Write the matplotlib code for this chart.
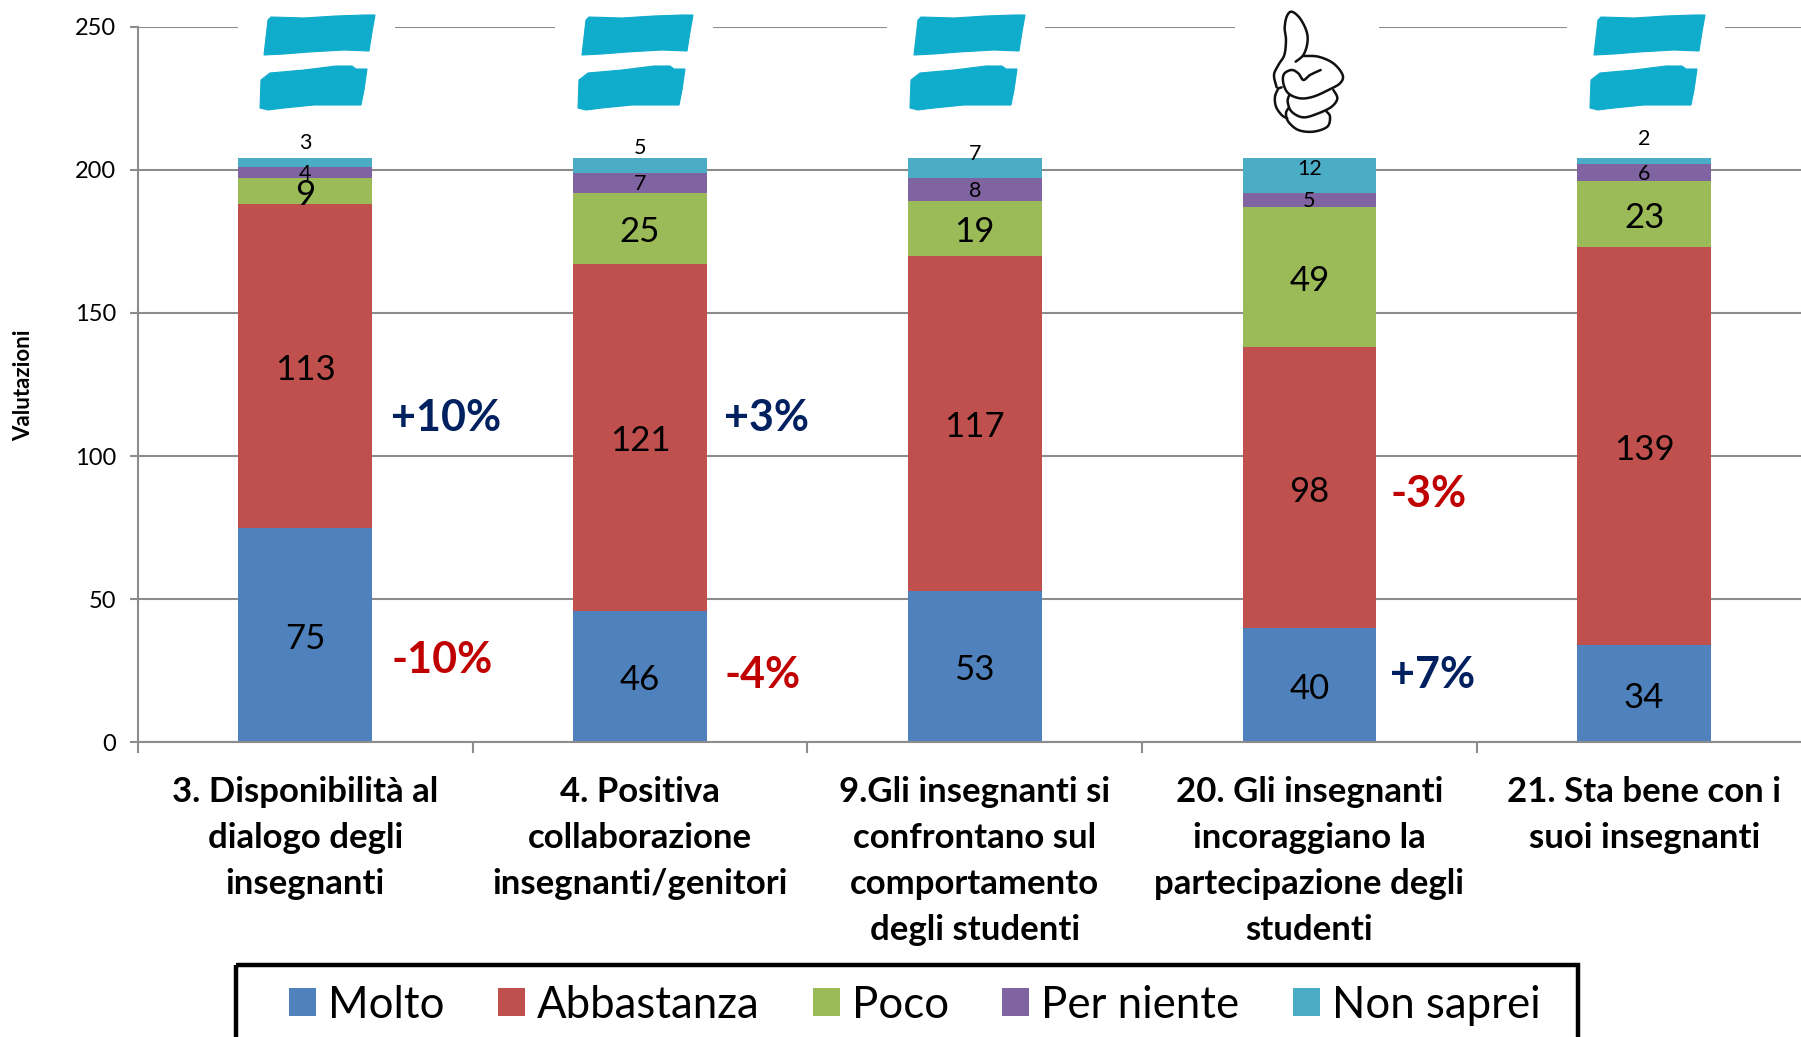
#!/usr/bin/env python3
import numpy as np
import matplotlib
matplotlib.use('Agg')
import matplotlib.pyplot as plt
from matplotlib.patches import Polygon, Rectangle

# ── data ──
categories = ['3. Disponibilità al\ndialogo degli\ninsegnanti',
              '4. Positiva\ncollaborazione\ninsegnanti/genitori',
              '9.Gli insegnanti si\nconfrontano sul\ncomportamento\ndegli studenti',
              '20. Gli insegnanti\nincoraggiano la\npartecipazione degli\nstudenti',
              '21. Sta bene con i\nsuoi insegnanti']
molto = [75, 46, 53, 40, 34]
abbastanza = [113, 121, 117, 98, 139]
poco = [9, 25, 19, 49, 23]
per_niente = [4, 7, 8, 5, 6]
non_saprei = [3, 5, 7, 12, 2]
series_names = ['Molto', 'Abbastanza', 'Poco', 'Per niente', 'Non saprei']
yticks = [0, 50, 100, 150, 200, 250]
deltas = ['+10%', '-10%', '+3%', '-4%', '-3%', '+7%']

# ── style ──
W, H = 1801, 1037
FONT = 'Lato'
COLORS = ['#4F81BD', '#C0504D', '#9BBB59', '#8064A2', '#4BACC6']
GRID = '#8C8C8C'
BRUSH = '#0FACCC'
LABEL_SIZE = [25, 25, 25, 15.5, 15.5]
LABEL_DROP = [4, 4, 4, 1, 0]
# pixels to lift the labels of the thin top segments
TOP_LIFT = [20, 18, 14, 7, 22]
DELTA_POS = [(391, 418), (391, 660), (724, 418), (724, 675), (1390, 494), (1390, 675)]
DELTA_COL = ['#002060', '#C00000', '#002060', '#C00000', '#C00000', '#002060']

plt.rcParams['font.family'] = [FONT, 'DejaVu Sans']

fig = plt.figure(figsize=(W / 100, H / 100), dpi=100)
AX_L, AX_T, AX_B = 138, 26.7, 742.3
CAT_W = 334.7
ax = fig.add_axes([AX_L / W, 1 - AX_B / H, 1 - AX_L / W, (AX_B - AX_T) / H])

# ── bars ──
x = np.arange(len(categories)) + 0.5
values = [molto, abbastanza, poco, per_niente, non_saprei]
bottom = np.zeros(len(categories))
handles = []
for k, vals in enumerate(values):
    bars = ax.bar(x, vals, 0.4, bottom=bottom, color=COLORS[k], zorder=2,
                  label=series_names[k])
    handles.append(bars)
    for i, v in enumerate(vals):
        lift = TOP_LIFT[i] if k == 4 else -LABEL_DROP[k]
        ax.annotate(str(v), (x[i], bottom[i] + v / 2), xytext=(0, lift * 0.72),
                    textcoords='offset points', ha='center', va='center',
                    fontsize=LABEL_SIZE[k], color='black', zorder=4)
    bottom += np.array(vals)

# ── axes ──
ax.set_xlim(0, (W - AX_L) / CAT_W)
ax.set_ylim(0, 250)
ax.set_yticks(yticks)
ax.yaxis.grid(True, color=GRID, lw=1.5, zorder=0)
ax.set_axisbelow(True)
ax.set_xticks(np.arange(0, 5))
ax.set_xticklabels([])
ax.set_xticks(x, minor=True)
ax.set_xticklabels(categories, minor=True, fontsize=25, fontweight='bold',
                   linespacing=1.53)
ax.tick_params(axis='x', which='major', length=8, width=1.5, color=GRID)
ax.tick_params(axis='x', which='minor', length=0, pad=24.5)
ax.tick_params(axis='y', length=6, width=1.5, color=GRID, labelsize=17, pad=10)
for s in ['top', 'right']:
    ax.spines[s].set_visible(False)
for s in ['left', 'bottom']:
    ax.spines[s].set_color(GRID)
    ax.spines[s].set_linewidth(1.5)

# overlay in pixel coordinates for the drawn icons
ov = fig.add_axes([0, 0, 1, 1], zorder=5)
ov.set_xlim(0, W)
ov.set_ylim(H, 0)
ov.axis('off')
ov.patch.set_alpha(0)

# ── percent notes ──
for txt, (px, py), col in zip(deltas, DELTA_POS, DELTA_COL):
    ov.text(px, py, txt, color=col, fontsize=31, fontweight='bold',
            ha='left', va='center')

# ── icons ──
ax_gaps = [(238, 395), (555, 713), (887, 1045), (1235, 1379), (1567, 1725)]
for a, b in ax_gaps:
    ov.add_patch(Rectangle((a, AX_T - 3), b - a, 6, fc='white', ec='none'))

stroke_top = [(0, 55), (4, 20), (7, 17), (40, 18), (72, 16), (100, 15), (111, 15),
              (108, 32), (105, 51), (80, 50), (45, 52), (20, 54)]
stroke_bot = [(-4, 108), (-3, 80), (6, 73), (40, 70), (72, 66), (88, 66), (92, 69),
              (103, 69), (100, 90), (97, 105), (85, 105), (50, 105), (20, 108), (4, 110)]
for ox in [264, 582, 914, 1594]:
    for st in (stroke_top, stroke_bot):
        pts = [(ox + px, py) for px, py in st]
        ov.add_patch(Polygon(pts, closed=True, fc=BRUSH, ec=BRUSH, lw=0.8))


def smooth(pts, n=14):
    # catmull-rom through the traced points
    p = np.array(pts, dtype=float)
    p = np.vstack([p[0], p, p[-1]])
    out = []
    for i in range(1, len(p) - 2):
        t = np.linspace(0, 1, n)[:, None]
        out.append(0.5 * (2 * p[i] + (p[i + 1] - p[i - 1]) * t
                          + (2 * p[i - 1] - 5 * p[i] + 4 * p[i + 1] - p[i + 2]) * t ** 2
                          + (3 * p[i] - p[i - 1] - 3 * p[i + 1] + p[i + 2]) * t ** 3))
    return np.vstack(out)


thumb = [
    [(80, 262), (72, 225), (85, 195), (103, 165), (108, 120), (104, 85), (110, 50),
     (125, 35), (150, 55), (170, 95), (172, 130), (160, 165), (137, 185)],
    [(160, 168), (205, 170), (250, 190), (278, 225), (270, 250), (235, 270), (190, 290),
     (150, 295), (115, 280), (100, 250), (102, 222), (125, 210), (145, 220), (160, 240),
     (180, 225), (212, 210)],
    [(250, 270), (262, 295), (245, 320), (205, 340), (160, 352), (125, 335), (113, 305),
     (118, 285)],
    [(230, 335), (240, 350), (232, 380), (190, 395), (145, 390), (115, 365), (108, 340),
     (115, 325)],
    [(85, 265), (75, 290), (78, 320), (95, 345), (112, 355)],
    [(85, 265), (95, 262)],
]
for seg in thumb:
    c = smooth(seg)
    ov.plot(1250 + c[:, 0] / 3, c[:, 1] / 3, color='#111111', lw=1.8,
            solid_capstyle='round')

# ── y title ──
fig.text(24 / W, 1 - 385 / H, 'Valutazioni', rotation=90, fontsize=16,
         fontweight='bold', ha='center', va='center')

# ── legend ──
ov.add_patch(Rectangle((236, 965), 1342, 90, fc='none', ec='black', lw=3.2))
fig.legend(handles, series_names, ncols=5, loc='center left', frameon=False,
           bbox_to_anchor=(289 / W, 1 - 1005 / H), borderpad=0, borderaxespad=0,
           fontsize=31.5, handlelength=0.62, handleheight=0.62, handletextpad=0.27,
           columnspacing=1.22)

fig.savefig('out.png', dpi=100)
